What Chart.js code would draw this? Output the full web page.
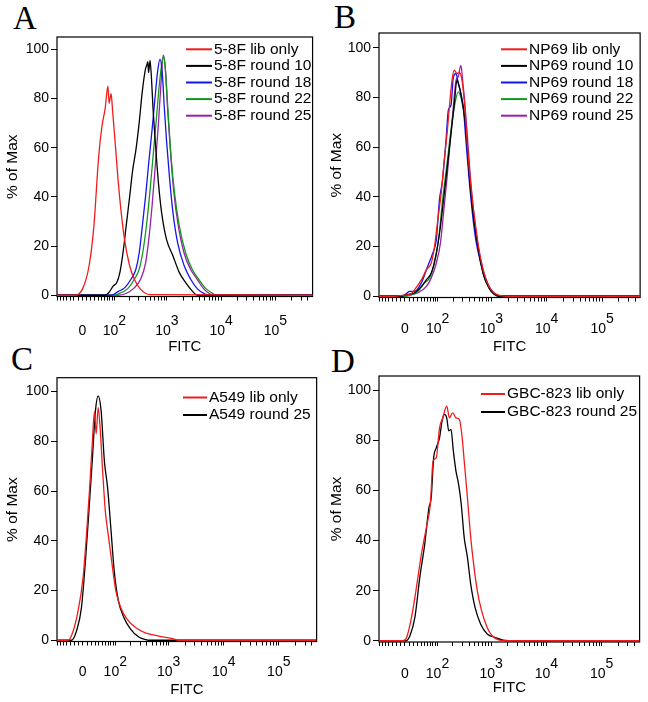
<!DOCTYPE html>
<html lang="en">
<head>
<meta charset="UTF-8">
<title>FITC histograms</title>
<script src="https://cdn.jsdelivr.net/npm/chart.js@4"></script>
<style>
    body {
        margin: 0;
        background: #fff;
        font-family: "Liberation Sans", Arial, sans-serif;
    }
    #page {
        position: relative;
        width: 648px;
        height: 702px;
        overflow: hidden;
    }
    canvas {
        position: absolute;
    }
    .letter {
        position: absolute;
        font-family: "Liberation Serif", "Times New Roman", serif;
        font-size: 33px;
        line-height: 33px;
        color: #000;
    }
</style>
</head>
<body>
<div id="page">
    <div class="letter" style="left:13px; top:2px;">A</div>
    <div class="letter" style="left:334px; top:1px;">B</div>
    <div class="letter" style="left:11px; top:343px;">C</div>
    <div class="letter" style="left:331px; top:345px;">D</div>
    <canvas id="chartA" width="324" height="360" style="left:0; top:0;"></canvas>
    <canvas id="chartB" width="324" height="360" style="left:324px; top:0;"></canvas>
    <canvas id="chartC" width="324" height="360" style="left:0; top:351px;"></canvas>
    <canvas id="chartD" width="324" height="360" style="left:324px; top:351px;"></canvas>
</div>

<script>
// ---- axis ticks ----
const xMajor = [0, 100, 1000, 10000, 100000];
const xExp = ['', '2', '3', '4', '5'];
const xBase = ['0', '10', '10', '10', '10'];
const yTicks = [0, 20, 40, 60, 80, 100];
const xMin = -71, xMax = 487000;

// ---- A: 5-8F (FITC value, % of max) ----
const aLibX = [-71, -18, 0, 16, 28, 41, 51, 62, 72, 77, 85, 92, 103, 119, 138, 160, 201, 247, 324, 486, 487000];
const aLibY = [0, 0, 2.4, 12, 28, 56, 68.5, 76, 85, 78, 82, 74.6, 63, 47, 33.5, 22.7, 12, 6.5, 2.4, 0.3, 0];
const aR10X = [-71, 62, 75, 95, 111, 129, 149, 172, 201, 230, 264, 304, 349, 400, 429, 442, 456, 486, 517, 550, 605, 696, 797, 980, 1291, 1694, 2230, 2937, 3609, 487000];
const aR10Y = [0, 0, 1, 3.8, 5, 9, 17, 28, 40, 51, 59, 70, 83, 92, 94, 95, 90.5, 95.5, 88, 76.6, 63, 45.6, 33.5, 22.7, 16, 9.2, 5, 1.7, 0, 0];
const aR18X = [-71, 87.5, 119, 160.5, 213, 263.5, 304, 348.5, 400, 460, 528, 605, 676, 743, 820, 891, 980, 1122, 1291, 1585, 2080, 2740, 3609, 5076, 7661, 487000];
const aR18Y = [0, 0, 1.5, 3, 6.5, 10.5, 17, 28, 40, 54, 67, 81, 91.5, 96, 90, 76.6, 63, 47, 33.5, 21, 12, 6.5, 2.7, 0.5, 0, 0];
const aR22X = [-71, 87, 119, 185, 247, 304, 363, 429, 492, 566, 649, 725, 820, 876, 952, 1051, 1204, 1378, 1694, 2230, 2937, 3855, 5076, 6688, 8211, 487000];
const aR22Y = [0, 0, 0.5, 2.7, 6.5, 10.5, 18.6, 30.8, 44, 59, 74, 86, 95.5, 97, 89, 74, 55, 41.6, 28, 17, 10.5, 6.5, 3, 1, 0, 0];
const aR25X = [-71, 119, 247, 324, 400, 460, 528, 605, 696, 774, 855, 940, 1021, 1155, 1323, 1585, 2080, 2740, 3609, 4735, 6236, 7661, 487000];
const aR25Y = [0, 0, 3, 6.5, 13, 22.7, 36, 52, 70, 86, 97.6, 91.5, 76.6, 59, 43, 29.4, 17, 10.5, 6.5, 2.7, 0.5, 0, 0];

// ---- B: NP69 ----
const bLibX = [-71, -23, 0, 16, 23, 41, 56, 73, 86, 101, 118, 136, 154, 170, 191, 211, 236, 260, 287, 321, 359, 395, 453, 521, 597, 734, 903, 1108, 1460, 2060, 487000];
const bLibY = [0, 0, 0.5, 1.2, 2.7, 6.7, 10.7, 13.4, 20, 30.8, 41.5, 55, 65.6, 76, 87, 91, 89.7, 90, 88, 79, 64, 52, 38.8, 28, 18.8, 9.4, 4, 1.4, 0.3, 0, 0];
const bR10X = [-71, -10, 0, 23, 41, 56, 73, 94, 114, 136, 158, 183, 211, 236, 257, 287, 321, 359, 395, 453, 521, 597, 734, 903, 1108, 1362, 487000];
const bR10Y = [0, 0, 0.5, 1.4, 4, 6.7, 9.4, 17.4, 28, 41.5, 53.6, 65.6, 77.7, 87, 85, 80, 73.6, 63, 49.6, 36, 25.5, 17.4, 8, 3.4, 1, 0, 0];
const bR18X = [-71, -10, 0, 11, 23, 41, 60, 79, 94, 109, 126, 147, 163, 183, 202, 227, 249, 279, 312, 344, 395, 453, 521, 640, 787, 966, 1190, 1500, 487000];
const bR18Y = [0, 0, 0.5, 2, 2, 5.5, 12, 17.4, 22.8, 38.8, 46.9, 63, 75, 77, 88, 89.7, 85.7, 81.7, 75, 63, 47, 33.5, 22.8, 13.4, 6.7, 2.7, 0.5, 0, 0];
const bR22X = [-71, 0, 15, 31.5, 50, 67, 86, 106, 126, 154, 183, 217, 249, 287, 330, 379, 434, 504, 597, 734, 903, 1108, 1362, 487000];
const bR22Y = [0, 0, 0.5, 2, 5.4, 7.4, 13.4, 24, 38.8, 53.6, 67, 77.7, 82.3, 79, 71, 55, 40, 28, 17.4, 8, 3.4, 0.8, 0, 0];
const bR25X = [-71, 0, 7.5, 31.5, 56, 73, 94, 114, 131.5, 154, 177.5, 205, 227, 249, 279, 304, 330, 368, 411, 472, 543, 640, 787, 966, 1190, 1480, 487000];
const bR25Y = [0, 0, 0.5, 1.4, 4, 7.4, 13.4, 21.4, 33.5, 48, 63, 77.7, 87, 88.4, 93, 85.7, 77.7, 64, 49.6, 34.8, 24, 14.7, 7.4, 3, 0.8, 0, 0];

// ---- C: A549 ----
const cLibX = [-71, -35, -22.5, -10.7, 0.7, 9.7, 16, 22.4, 28.1, 32.5, 37.9, 43.5, 51.2, 59.8, 71.7, 85.4, 103, 129, 172, 247, 374, 649, 1122, 1480, 487000];
const cLibY = [0, 0, 3.7, 11.8, 25, 45, 61, 79, 92, 83, 93.6, 85.5, 68, 52, 41.3, 30.6, 19.8, 13.1, 8.4, 5.1, 3, 1.7, 0.8, 0, 0];
const cR25X = [-71, -26.4, -14.4, -2.9, 6.8, 14.4, 22.4, 30.7, 37.9, 46.4, 56.8, 67.9, 81.3, 95, 115.7, 149, 201, 283, 374, 429, 487000];
const cR25Y = [0, 0, 3.7, 13.1, 33.2, 52, 72, 92.4, 98.3, 92.4, 72, 61.4, 44, 27.9, 15.8, 9.1, 4.4, 1.3, 0.3, 0, 0];

// ---- D: GBC-823 ----
const dLibX = [-71, -3.4, 4.1, 15.5, 27.6, 41, 56.1, 69.9, 80.6, 94, 110, 127.7, 152.5, 171.5, 197.6, 227.3, 262.3, 292.5, 323.4, 370.9, 425.4, 489.8, 561.4, 670.5, 847.8, 1042, 1373, 1673, 487000];
const dLibY = [0, 0, 1.3, 9.3, 21.3, 34.6, 45.2, 54.5, 71.8, 73, 85, 89, 93.7, 89, 91, 89, 88.4, 82.4, 71.8, 57, 41.2, 29.2, 19.9, 12, 5.3, 2, 0.3, 0, 0];
const dR25X = [-71, 2.7, 11.8, 23.7, 36.5, 50.9, 65, 73.1, 82.9, 94, 110, 123.6, 137.2, 152.5, 166.4, 183.7, 203.5, 227.3, 254.7, 285.3, 323.4, 370.9, 425.4, 510.4, 643.4, 847.8, 1193.6, 1572, 2060, 487000];
const dR25Y = [0, 0, 2, 9.3, 25.3, 38.6, 53.2, 57, 73, 77, 81, 87.7, 90.4, 89, 83.8, 84.4, 75.8, 67.8, 62.5, 54.5, 41.2, 33.2, 22.6, 13.3, 6.7, 2.7, 1.3, 0.3, 0, 0];

const RED = '#f01c1c', BLACK = '#000000', BLUE = '#1414ee', GREEN = '#14961e', PURPLE = '#9a1eac';

// minor ticks of the biexponential axis
const xMinor = [];
for (let k = -70; k < 0; k += 10) xMinor.push(k);
for (let d = 10; d <= 100000; d *= 10) {
    for (let m = (d === 10 ? 1 : 2); m <= 9; m++) {
        if (m * d <= 400000) xMinor.push(m * d);
    }
}
const xAllTicks = xMinor.concat(xMajor).sort((a, b) => a - b);

// biexponential (arcsinh) scale, like FlowJo's FITC axis
const W2 = 54.8;
function biex(v) { return Math.asinh(v / W2); }
function biexInv(t) { return W2 * Math.sinh(t); }

class BiexScale extends Chart.LinearScale {
    buildTicks() {
        return xAllTicks.filter(v => v >= this.min && v <= this.max).map(v => ({value: v}));
    }
    configure() {
        super.configure();
        this._tMin = biex(this.min);
        this._tMax = biex(this.max);
    }
    getPixelForValue(value) {
        return this.getPixelForDecimal((biex(value) - this._tMin) / (this._tMax - this._tMin));
    }
    getValueForPixel(pixel) {
        const d = this.getDecimalForPixel(pixel);
        return biexInv(this._tMin + d * (this._tMax - this._tMin));
    }
}
BiexScale.id = 'biex';
BiexScale.defaults = Chart.LinearScale.defaults;
Chart.register(BiexScale);

const framePlugin = {
    id: 'frame',
    beforeDatasetsDraw(chart) {
        const {ctx, chartArea: a} = chart;
        ctx.save();
        ctx.strokeStyle = '#000';
        ctx.lineWidth = 1.2;
        ctx.strokeRect(a.left, a.top, a.right - a.left, a.bottom - a.top);
        ctx.restore();
    },
    afterDraw(chart, args, opts) {
        const ctx = chart.ctx;
        ctx.save();
        ctx.font = '15.5px "Liberation Sans", Arial, sans-serif';
        ctx.textBaseline = 'middle';
        ctx.textAlign = 'left';
        chart.data.datasets.forEach((ds, i) => {
            const y = opts.y + i * opts.dy;
            ctx.strokeStyle = ds.borderColor;
            ctx.lineWidth = 2;
            ctx.beginPath();
            ctx.moveTo(opts.x, y);
            ctx.lineTo(opts.x + opts.len, y);
            ctx.stroke();
            ctx.fillStyle = '#000';
            ctx.fillText(ds.label, opts.x + opts.len + 2, y);
        });
        ctx.restore();
    }
};

function makeChart(canvasId, p) {
    const H = 360, W = 324;
    const datasets = p.labels.map((label, i) => ({
        label: label,
        data: p.xs[i].map((x, j) => ({x: x, y: p.ys[i][j]})),
        borderColor: p.colors[i],
        borderWidth: 1.3,
        pointRadius: 0,
        fill: false,
        cubicInterpolationMode: 'monotone'
    }));

    new Chart(document.getElementById(canvasId), {
        type: 'line',
        data: {datasets: datasets},
        plugins: [framePlugin],
        options: {
            responsive: false,
            animation: false,
            events: [],
            layout: {padding: {left: 0, top: p.box.t, right: W - p.box.r, bottom: 0}},
            plugins: {
                legend: {display: false},
                tooltip: {enabled: false},
                frame: {x: p.legend.x, y: p.legend.y, dy: p.legend.dy, len: p.legend.len}
            },
            scales: {
                x: {
                    type: 'biex',
                    min: xMin,
                    max: xMax,
                    border: {display: false},
                    grid: {drawOnChartArea: false, drawTicks: true, tickLength: 4, color: '#000', tickWidth: 1},
                    ticks: {
                        autoSkip: false,
                        maxRotation: 0,
                        minRotation: 0,
                        padding: p.tickPad,
                        color: '#000',
                        font: {family: '"Liberation Sans", Arial, sans-serif', size: 14, lineHeight: 0.72},
                        callback: function (value) {
                            const i = xMajor.indexOf(value);
                            if (i < 0) return '';
                            if (i === 0) return ['', xBase[0]];
                            return ['    ' + xExp[i], xBase[i] + '  '];
                        }
                    },
                    title: {
                        display: true,
                        text: 'FITC',
                        color: '#000',
                        font: {family: '"Liberation Sans", Arial, sans-serif', size: 15},
                        padding: {top: 0, bottom: p.titlePad}
                    },
                    afterFit: s => { s.height = H - p.box.b; }
                },
                y: {
                    min: -0.5,
                    max: p.yMax,
                    border: {display: false},
                    grid: {drawOnChartArea: false, drawTicks: true, tickLength: 6, color: '#000'},
                    afterBuildTicks: s => { s.ticks = yTicks.map(v => ({value: v})); },
                    ticks: {
                        padding: 2,
                        color: '#000',
                        font: {family: '"Liberation Sans", Arial, sans-serif', size: 14}
                    },
                    title: {
                        display: true,
                        text: '% of Max',
                        color: '#000',
                        font: {family: '"Liberation Sans", Arial, sans-serif', size: 15.5},
                        padding: {top: 3, bottom: 0}
                    },
                    afterFit: s => { s.width = p.box.l; }
                }
            }
        }
    });
}

makeChart('chartA', {
    box: {l: 57, r: 321, t: 37, b: 296.5}, yMax: 105, tickPad: 16, titlePad: 4.5,
    legend: {x: 186, len: 26, y: 49.3, dy: 16.6},
    labels: ['5-8F lib only', '5-8F round 10', '5-8F round 18', '5-8F round 22', '5-8F round 25'],
    xs: [aLibX, aR10X, aR18X, aR22X, aR25X],
    ys: [aLibY, aR10Y, aR18Y, aR22Y, aR25Y],
    colors: [RED, BLACK, BLUE, GREEN, PURPLE]
});

makeChart('chartB', {
    box: {l: 55, r: 318, t: 33, b: 297.5}, yMax: 106, tickPad: 12.5, titlePad: 4,
    legend: {x: 177, len: 26, y: 49.3, dy: 16.6},
    labels: ['NP69 lib only', 'NP69 round 10', 'NP69 round 18', 'NP69 round 22', 'NP69 round 25'],
    xs: [bLibX, bR10X, bR18X, bR22X, bR25X],
    ys: [bLibY, bR10Y, bR18Y, bR22Y, bR25Y],
    colors: [RED, BLACK, BLUE, GREEN, PURPLE]
});

makeChart('chartC', {
    box: {l: 57, r: 320, t: 26.7, b: 290.5}, yMax: 105.6, tickPad: 12, titlePad: 12.5,
    legend: {x: 183, len: 24, y: 46.5, dy: 17.5},
    labels: ['A549 lib only', 'A549 round 25'],
    xs: [cLibX, cR25X],
    ys: [cLibY, cR25Y],
    colors: [RED, BLACK]
});

makeChart('chartD', {
    box: {l: 55, r: 318, t: 25, b: 291}, yMax: 105.7, tickPad: 13, titlePad: 14.5,
    legend: {x: 157, len: 24, y: 43, dy: 18},
    labels: ['GBC-823 lib only', 'GBC-823 round 25'],
    xs: [dLibX, dR25X],
    ys: [dLibY, dR25Y],
    colors: [RED, BLACK]
});
</script>
</body>
</html>
